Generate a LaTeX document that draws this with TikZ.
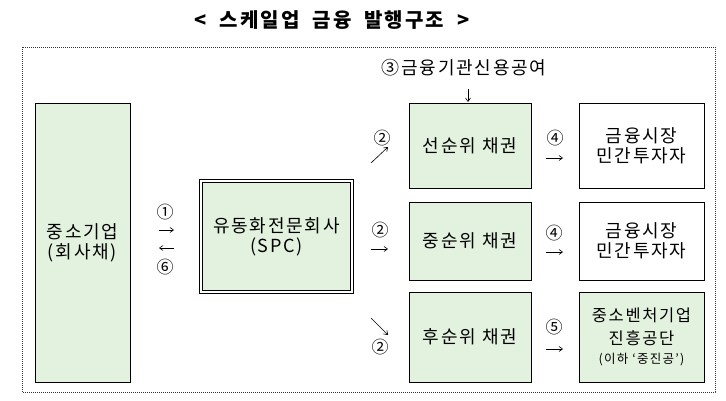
\documentclass[tikz,border=0pt]{standalone}
\usepackage{fontspec}
\setmainfont{Noto Sans CJK KR}[LetterSpace=10]
\usetikzlibrary{arrows.meta,positioning}
\definecolor{bondgreen}{HTML}{E3F1DF}
\definecolor{frameink}{HTML}{333333}
\tikzset{
  greenbox/.style={draw,fill=bondgreen,line width=.8pt,align=center,inner sep=0pt},
  whitebox/.style={draw,fill=white,line width=.8pt,align=center,inner sep=0pt},
  numlabel/.style={inner sep=0pt,font=\fontsize{17}{20}\selectfont},
  thinarrow/.style={-{Straight Barb[length=3.5pt,width=5pt]},line width=.6pt}
}
\begin{document}
\begin{tikzpicture}[x=1pt,y=-1pt,font=\fontsize{18}{20}\selectfont]
  \useasboundingbox (0,0) rectangle (726,401);
  \node[font=\fontsize{20}{22}\selectfont\bfseries] (title) at (332,20) {<\ \ 스케일업\ \ 금융\ \ 발행구조\ \ >};
  \draw[frameink,line width=.6pt,dash pattern=on .8pt off 1.2pt] (22,47) rectangle (715,392);

  % issuing company and SPC
  \node[greenbox,minimum width=95pt,minimum height=279pt] (sme) at (82.5,242.5) {중소기업\\(회사채)};
  \node[greenbox,double,double distance=2pt,minimum width=151pt,minimum height=111pt] (spc) at (276.5,236.5) {유동화전문회사\\(SPC)};

  % tranches
  \node[greenbox,minimum width=122pt,minimum height=85pt] (senior) at (470,145.5) {선순위 채권};
  \node[greenbox,minimum width=122pt,minimum height=78pt] (mezz) at (470,241) {중순위 채권};
  \node[greenbox,minimum width=122pt,minimum height=90pt] (junior) at (470,337) {후순위 채권};

  % buyers
  \node[whitebox,minimum width=125pt,minimum height=85pt] (market1) at (641.5,145.5) {금융시장\\민간투자자};
  \node[whitebox,minimum width=125pt,minimum height=78pt] (market2) at (641.5,241) {금융시장\\민간투자자};
  \node[greenbox,minimum width=125pt,minimum height=90pt,font=\fontsize{16.5}{23}\selectfont] (kosmes) at (641.5,337)
    {중소벤처기업\\진흥공단\\[-4pt]{\fontsize{12.5}{14}\selectfont (이하 ‘중진공’)}};

  % step numbers
  \node[numlabel] (s1) at (165,212) {①};
  \node[numlabel] (s6) at (165,267) {⑥};
  \node[inner sep=0pt] (s3) at (464,68) {③금융기관신용공여};
  \node[numlabel] (s2a) at (382,138) {②};
  \node[numlabel] (s2b) at (380,230) {②};
  \node[numlabel] (s2c) at (380,347) {②};
  \node[numlabel] (s4a) at (555,138) {④};
  \node[numlabel] (s4b) at (554,233) {④};
  \node[numlabel] (s5) at (554,327) {⑤};

  % arrow ends
  \coordinate (a1s) at (159,230); \coordinate (a1e) at (174,230);
  \coordinate (a6s) at (174,248); \coordinate (a6e) at (159,248);
  \coordinate (a3s) at (468,89);  \coordinate (a3e) at (468,102);
  \coordinate (a2as) at (371,163); \coordinate (a2ae) at (388,147);
  \coordinate (a2bs) at (371,249); \coordinate (a2be) at (388,249);
  \coordinate (a2cs) at (371,318); \coordinate (a2ce) at (388,335);
  \coordinate (a4as) at (546,158); \coordinate (a4ae) at (563,158);
  \coordinate (a4bs) at (546,252); \coordinate (a4be) at (563,252);
  \coordinate (a5s) at (546,349);  \coordinate (a5e) at (563,349);

  \foreach \s/\e in {a1s/a1e,a6s/a6e,a3s/a3e,a2as/a2ae,a2bs/a2be,a2cs/a2ce,a4as/a4ae,a4bs/a4be,a5s/a5e}
    \draw[thinarrow] (\s) -- (\e);
\end{tikzpicture}
\end{document}
